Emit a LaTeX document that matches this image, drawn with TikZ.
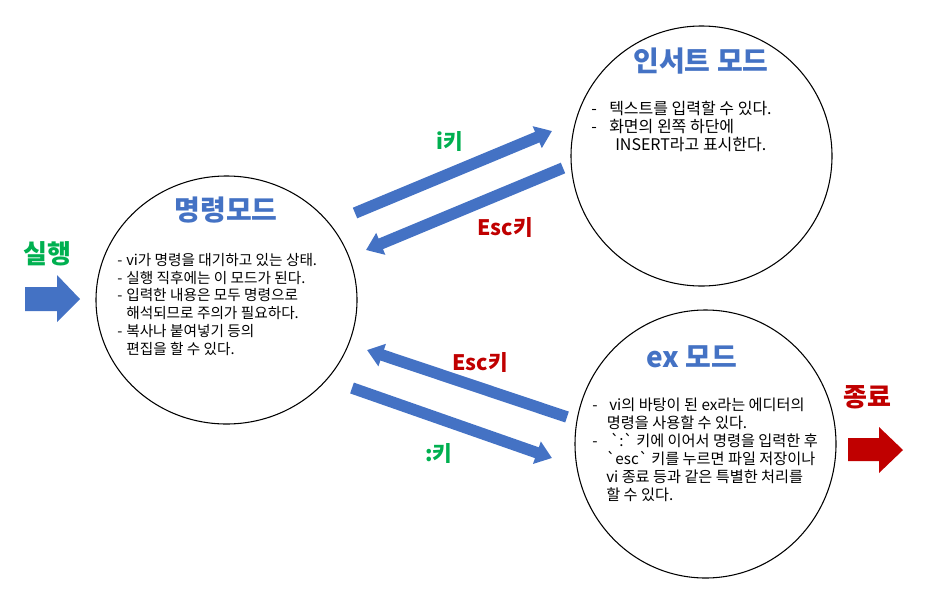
\documentclass[tikz,border=0pt]{standalone}
\usepackage{fontspec}
\setmainfont{Noto Sans CJK KR}[Ligatures=TeXOff]
\usetikzlibrary{arrows.meta,shapes.geometric}
\definecolor{tblue}{HTML}{4472C4}
\definecolor{tgreen}{HTML}{00B050}
\definecolor{tred}{HTML}{C00000}
\newcommand{\dl}[2]{\makebox[#1][l]{-}#2}
\begin{document}
\begin{tikzpicture}[x=0.75pt,y=-0.75pt,
  modeshape/.style={draw=black, line width=0.8pt, ellipse, inner sep=0pt},
  title/.style={text=tblue, font=\fontsize{21}{24}\selectfont\bfseries, inner sep=0pt},
  body/.style={anchor=north west, align=left, inner sep=0pt, font=\fontsize{11}{13.3}\selectfont},
  flow/.style={draw=tblue, line width=8.6pt, -{Triangle[length=12pt,width=17pt]}},
  glabel/.style={text=tgreen, font=\fontsize{16}{18}\selectfont\bfseries, inner sep=0pt},
  rlabel/.style={text=tred, font=\fontsize{16}{18}\selectfont\bfseries, inner sep=0pt},
  big/.style={font=\fontsize{19.5}{22}\selectfont\bfseries, inner sep=0pt}]
\useasboundingbox (0,0) rectangle (927,603);
% mode circles
\node[modeshape, minimum width=195.75pt, minimum height=186pt] (cmd) at (226.5,300) {};
\node[modeshape, minimum width=195.75pt, minimum height=195pt] (ins) at (701.5,156) {};
\node[modeshape, minimum width=195.75pt, minimum height=201pt] (ex) at (705.5,444) {};
% titles
\node[title] (cmdt) at (226,210) {명령모드};
\node[title] (inst) at (701,61) {인서트 모드};
\node[title] (ext) at (692,357) {ex 모드};
% body texts
\node[body] (cmdb) at (117,253) {%
\dl{6.75pt}{vi가 명령을 대기하고 있는 상태.}\\
\dl{6.75pt}{실행 직후에는 이 모드가 된다.}\\
\dl{6.75pt}{입력한 내용은 모두 명령으로}\\
\hspace*{6.75pt}해석되므로 주의가 필요하다.\\
\dl{6.75pt}{복사나 붙여넣기 등의}\\
\hspace*{6.75pt}편집을 할 수 있다.};
\node[body, font=\fontsize{12}{13.5}\selectfont] (insb) at (591,101) {%
\dl{13.5pt}{텍스트를 입력할 수 있다.}\\
\dl{13.5pt}{화면의 왼쪽 하단에}\\
\hspace*{18pt}INSERT라고 표시한다.};
\node[body, font=\fontsize{11.4}{13.5}\selectfont] (exb) at (592,398) {%
\dl{12.75pt}{vi의 바탕이 된 ex라는 에디터의}\\
\hspace*{11pt}명령을 사용할 수 있다.\\
\dl{13.5pt}{`:` 키에 이어서 명령을 입력한 후}\\
\hspace*{10.5pt}`esc` 키를 누르면 파일 저장이나\\
\hspace*{10.5pt}vi 종료 등과 같은 특별한 처리를\\
\hspace*{10.5pt}할 수 있다.};
% arrow end points
\coordinate (a1s) at (355,213);
\coordinate (a1e) at (552,131);
\coordinate (a2s) at (563,168);
\coordinate (a2e) at (366,250);
\coordinate (a3s) at (567,417);
\coordinate (a3e) at (367,350);
\coordinate (a4s) at (352,388);
\coordinate (a4e) at (552,458);
\draw[flow] (a1s) -- (a1e);
\draw[flow] (a2s) -- (a2e);
\draw[flow] (a3s) -- (a3e);
\draw[flow] (a4s) -- (a4e);
% arrow labels
\node[glabel] (l1) at (450,141) {i키};
\node[rlabel] (l2) at (505,227) {Esc키};
\node[rlabel] (l3) at (480,362) {Esc키};
\node[glabel] (l4) at (439,453) {:키};
% start / end
\fill[tblue] (25,287) -- (57,287) -- (57,275) -- (80,299) -- (57,322) -- (57,311) -- (25,311) -- cycle;
\fill[tred] (848,438) -- (879,438) -- (879,427) -- (903,450) -- (879,473) -- (879,461) -- (848,461) -- cycle;
\node[big, text=tgreen] (run) at (47.5,254) {실행};
\node[big, text=tred] (quit) at (867,397) {종료};
\end{tikzpicture}
\end{document}
